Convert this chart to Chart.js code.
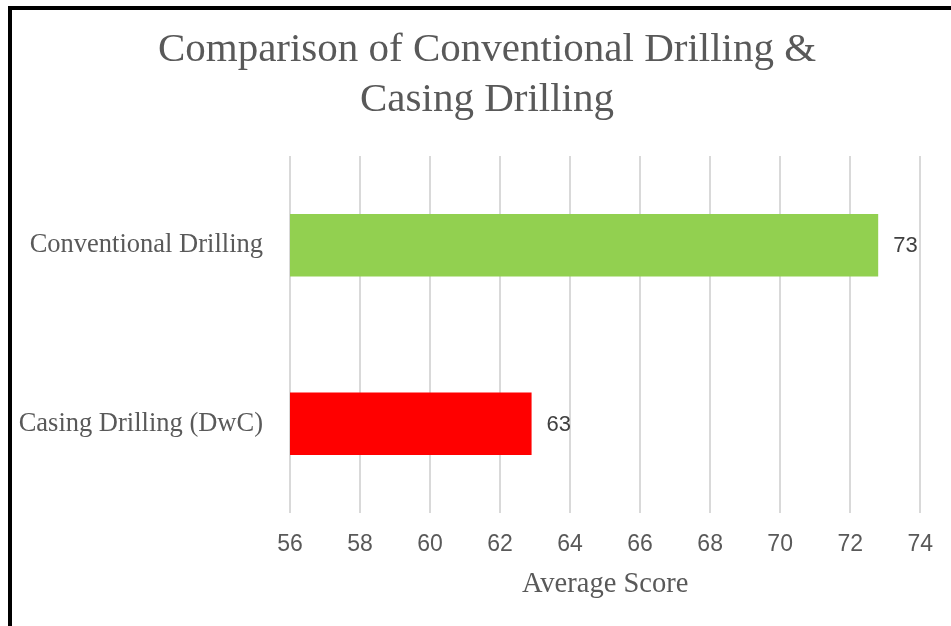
<!DOCTYPE html>
<html>
<head>
<meta charset="utf-8">
<script src="https://cdn.jsdelivr.net/npm/chart.js@4.4.0/dist/chart.umd.min.js"></script>
<style>
  html, body { margin: 0; padding: 0; background: #fff; }
  #wrap { position: relative; width: 951px; height: 626px; overflow: hidden; }
  #frame {
    position: absolute; left: 8px; top: 6px; right: -10px; bottom: -10px;
    border-left: 4px solid #000; border-top: 4px solid #000;
    pointer-events: none;
  }
</style>
</head>
<body>
<div id="wrap">
  <canvas id="myChart" width="951" height="626"></canvas>
  <div id="frame"></div>
</div>
<script>
const categories = ['Conventional Drilling', 'Casing Drilling (DwC)'];
const scores = [72.8, 62.9];
const barColors = ['#92D050', '#FF0000'];
const xTicks = [56, 58, 60, 62, 64, 66, 68, 70, 72, 74];

// draws the rounded value just right of each bar
const valueLabels = {
  id: 'valueLabels',
  afterDatasetsDraw(chart) {
    const ctx = chart.ctx;
    const meta = chart.getDatasetMeta(0);
    ctx.save();
    ctx.font = '22px "Liberation Sans", Arial, sans-serif';
    ctx.fillStyle = '#404040';
    ctx.textAlign = 'left';
    ctx.textBaseline = 'middle';
    meta.data.forEach((bar, i) => {
      ctx.fillText(Math.round(scores[i]), bar.x + 15, bar.y + 1);
    });
    ctx.restore();
  },
};

// the original title is centred a bit right of the canvas middle
const titleShift = {
  id: 'titleShift',
  afterLayout(chart) {
    if (chart.titleBlock) chart.titleBlock.left = 52;
  },
};

const ctx = document.getElementById('myChart').getContext('2d');

const chart = new Chart(ctx, {
  type: 'bar',
  data: {
    labels: categories,
    datasets: [
      {
        label: 'Average Score',
        data: scores,
        backgroundColor: barColors,
        borderWidth: 0,
        barPercentage: 0.35,
        categoryPercentage: 1,
      },
    ],
  },
  options: {
    indexAxis: 'y',
    responsive: false,
    animation: false,
    layout: { padding: { left: 0, right: 29, top: 0, bottom: 0 } },
    plugins: {
      legend: { display: false },
      tooltip: { enabled: false },
      title: {
        display: true,
        text: ['Comparison of Conventional Drilling &', 'Casing Drilling'],
        color: '#595959',
        font: { family: '"Liberation Serif", "Times New Roman", serif', size: 41, weight: 'normal', lineHeight: 1.22 },
        padding: { top: 25, bottom: 31 },
      },
    },
    scales: {
      x: {
        min: 56,
        max: 74,
        afterBuildTicks: (scale) => {
          scale.ticks = xTicks.map((v) => ({ value: v }));
        },
        afterFit: (scale) => {
          scale.height = 113;
        },
        grid: { color: '#d9d9d9', lineWidth: 2, drawTicks: false },
        border: { display: false },
        ticks: {
          padding: 18,
          color: '#595959',
          font: { family: '"Liberation Sans", Arial, sans-serif', size: 23 },
        },
        title: {
          display: true,
          text: 'Average Score',
          color: '#595959',
          font: { family: '"Liberation Serif", "Times New Roman", serif', size: 28.5 },
          padding: { top: 0, bottom: 24 },
        },
      },
      y: {
        afterFit: (scale) => {
          scale.width = 290;
        },
        grid: { display: false, drawTicks: false },
        border: { display: false },
        ticks: {
          padding: 27,
          color: '#595959',
          font: { family: '"Liberation Serif", "Times New Roman", serif', size: 26.5 },
        },
      },
    },
  },
  plugins: [valueLabels, titleShift],
});
</script>
</body>
</html>
